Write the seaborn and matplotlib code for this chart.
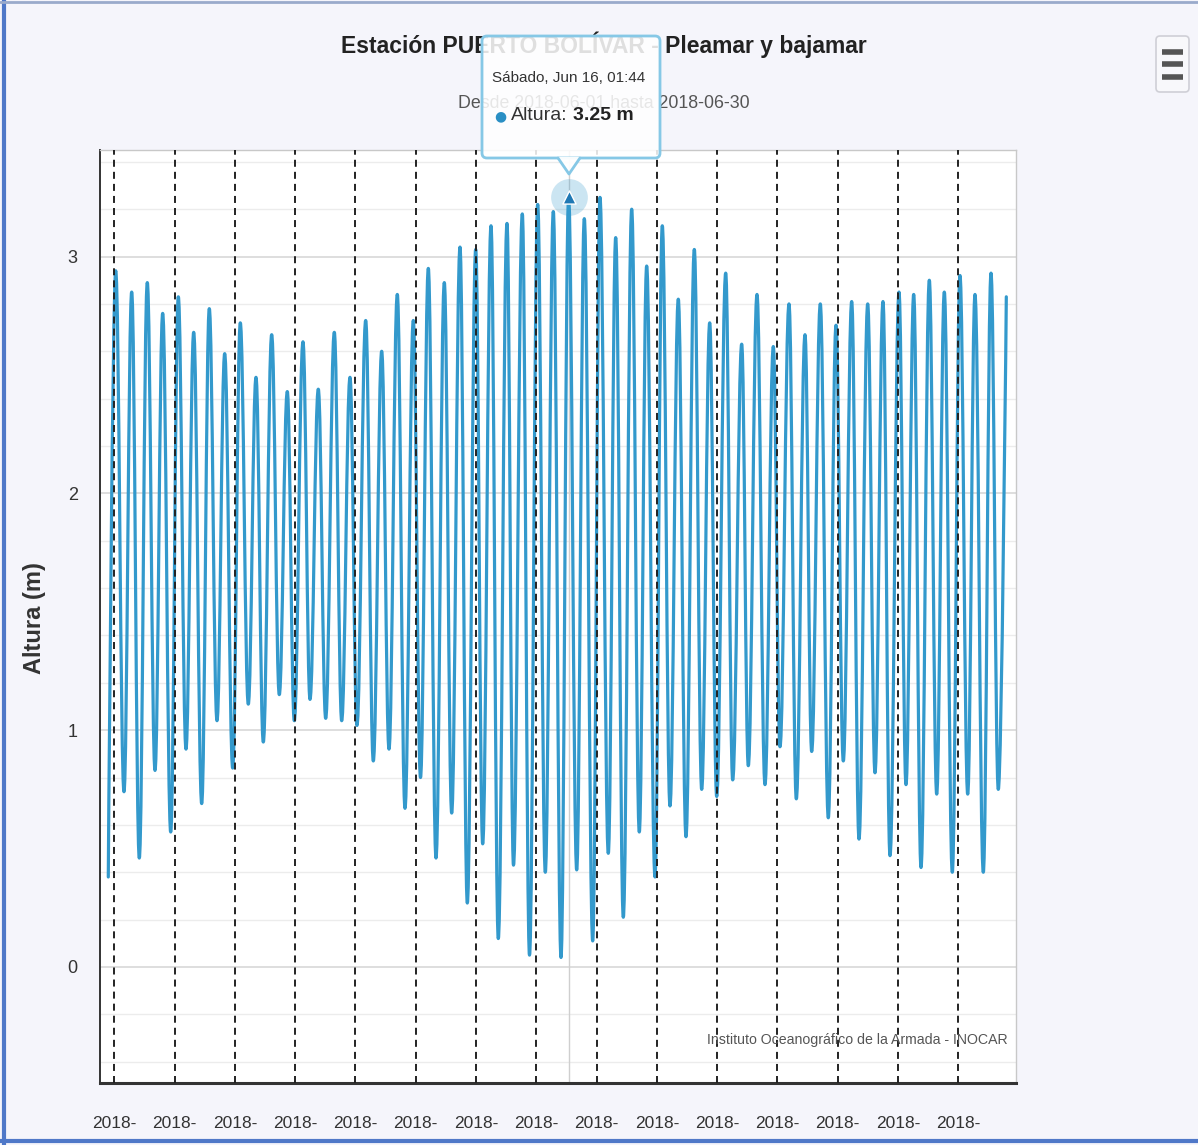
import numpy as np
import pandas as pd
import matplotlib
matplotlib.use("Agg")
import matplotlib.pyplot as plt
from matplotlib.patches import FancyBboxPatch, Polygon, PathPatch
from matplotlib.path import Path
from matplotlib.lines import Line2D
from matplotlib.transforms import IdentityTransform
import seaborn as sns

# ---------------- data ----------------
times = [
    "2018-05-31 19:13", "2018-06-01 01:07", "2018-06-01 07:43", "2018-06-01 13:51",
    "2018-06-01 19:54", "2018-06-02 02:16", "2018-06-02 08:25", "2018-06-02 14:32",
    "2018-06-02 20:55", "2018-06-03 02:58", "2018-06-03 09:05", "2018-06-03 15:13",
    "2018-06-03 21:35", "2018-06-04 03:38", "2018-06-04 09:46", "2018-06-04 15:54",
    "2018-06-04 22:16", "2018-06-05 04:19", "2018-06-05 10:41", "2018-06-05 16:49",
    "2018-06-05 22:38", "2018-06-06 05:19", "2018-06-06 11:22", "2018-06-06 17:44",
    "2018-06-06 23:19", "2018-06-07 06:14", "2018-06-07 11:49", "2018-06-07 18:25",
    "2018-06-08 00:19", "2018-06-08 07:10", "2018-06-08 13:03", "2018-06-08 19:40",
    "2018-06-09 01:14", "2018-06-09 08:10", "2018-06-09 14:13", "2018-06-09 20:54",
    "2018-06-10 02:43", "2018-06-10 09:19", "2018-06-10 15:27", "2018-06-10 22:04",
    "2018-06-11 03:48", "2018-06-11 10:01", "2018-06-11 16:08", "2018-06-11 22:45",
    "2018-06-12 04:38", "2018-06-12 11:15", "2018-06-12 17:04", "2018-06-12 23:45",
    "2018-06-13 05:19", "2018-06-13 11:56", "2018-06-13 17:44", "2018-06-14 00:40",
    "2018-06-14 05:50", "2018-06-14 12:51", "2018-06-14 18:35", "2018-06-15 01:07",
    "2018-06-15 07:10", "2018-06-15 13:32", "2018-06-15 19:40", "2018-06-16 01:44",
    "2018-06-16 08:10", "2018-06-16 14:13", "2018-06-16 20:54", "2018-06-17 02:43",
    "2018-06-17 09:19", "2018-06-17 15:13", "2018-06-17 21:16", "2018-06-18 03:57",
    "2018-06-18 10:00", "2018-06-18 15:53", "2018-06-18 22:30", "2018-06-19 04:19",
    "2018-06-19 10:26", "2018-06-19 17:03", "2018-06-19 23:11", "2018-06-20 05:48",
    "2018-06-20 11:41", "2018-06-20 18:04", "2018-06-20 23:38", "2018-06-21 06:48",
    "2018-06-21 12:22", "2018-06-21 19:32", "2018-06-22 00:47", "2018-06-22 07:43",
    "2018-06-22 14:05", "2018-06-22 20:42", "2018-06-23 02:02", "2018-06-23 09:12",
    "2018-06-23 15:01", "2018-06-23 21:56", "2018-06-24 03:16", "2018-06-24 10:07",
    "2018-06-24 16:29", "2018-06-24 22:37", "2018-06-25 04:26", "2018-06-25 11:07",
    "2018-06-25 16:56", "2018-06-25 23:52", "2018-06-26 05:40", "2018-06-26 12:02",
    "2018-06-26 17:37", "2018-06-27 00:47", "2018-06-27 06:21", "2018-06-27 12:29",
    "2018-06-27 18:18", "2018-06-28 00:55", "2018-06-28 06:48", "2018-06-28 12:51",
    "2018-06-28 19:13", "2018-06-29 01:21", "2018-06-29 07:29", "2018-06-29 13:17",
    "2018-06-29 19:54", "2018-06-30 02:02", "2018-06-30 07:50", "2018-06-30 14:13",
]
heights = [
    0.38, 2.94, 0.74, 2.85, 0.46, 2.89, 0.83, 2.76, 0.57, 2.83,
    0.92, 2.68, 0.69, 2.78, 1.04, 2.59, 0.84, 2.72, 1.11, 2.49,
    0.95, 2.67, 1.15, 2.43, 1.04, 2.64, 1.13, 2.44, 1.05, 2.68,
    1.04, 2.49, 1.02, 2.73, 0.87, 2.60, 0.92, 2.84, 0.67, 2.73,
    0.80, 2.95, 0.46, 2.89, 0.65, 3.04, 0.27, 3.03, 0.52, 3.13,
    0.12, 3.14, 0.43, 3.18, 0.05, 3.22, 0.40, 3.19, 0.04, 3.25,
    0.41, 3.16, 0.11, 3.25, 0.48, 3.08, 0.21, 3.20, 0.57, 2.96,
    0.38, 3.13, 0.68, 2.82, 0.55, 3.03, 0.75, 2.72, 0.72, 2.93,
    0.79, 2.63, 0.85, 2.84, 0.77, 2.62, 0.93, 2.80, 0.71, 2.67,
    0.91, 2.80, 0.63, 2.71, 0.87, 2.81, 0.54, 2.80, 0.82, 2.81,
    0.47, 2.85, 0.77, 2.84, 0.42, 2.90, 0.73, 2.85, 0.40, 2.92,
    0.73, 2.84, 0.40, 2.93, 0.75, 2.83,
]
tick_dates = [
    "2018-06-01", "2018-06-03", "2018-06-05", "2018-06-07", "2018-06-09",
    "2018-06-11", "2018-06-13", "2018-06-15", "2018-06-17", "2018-06-19",
    "2018-06-21", "2018-06-23", "2018-06-25", "2018-06-27", "2018-06-29",
]
tick_labels = ["2018-", "2018-", "2018-", "2018-", "2018-",
               "2018-", "2018-", "2018-", "2018-", "2018-",
               "2018-", "2018-", "2018-", "2018-", "2018-"]
y_ticks = [0, 1, 2, 3]
title = "Estación PUERTO BOLÍVAR - Pleamar y bajamar"
subtitle = "Desde 2018-06-01 hasta 2018-06-30"
credits = "Instituto Oceanográfico de la Armada - INOCAR"
y_label = "Altura (m)"
tooltip_time = "2018-06-16 01:44"
tooltip_value = 3.25
tooltip_date_text = "Sábado, Jun 16, 01:44"
x_range = ("2018-05-31 12:37", "2018-06-30 21:56")
y_range = (-0.49, 3.45)

df = pd.DataFrame({"time": pd.to_datetime(times), "height": heights})

# ---------------- style ----------------
sns.set_theme(style="white")
plt.rcParams["font.family"] = ["Liberation Sans", "DejaVu Sans"]

W, H = 1198, 1145
fig = plt.figure(figsize=(W / 100, H / 100), dpi=100, facecolor="#f5f5fb")


def fx(px):
    return px / W


def fy(py):
    return 1 - py / H


ax = fig.add_axes([fx(100), fy(1083), fx(1016) - fx(100), fy(150) - fy(1083)])
ax.set_facecolor("white")

LINE_COLOR = "#3399cc"
sns.lineplot(data=df, x="time", y="height", ax=ax, color=LINE_COLOR,
             linewidth=2.3, zorder=3)

# Render the seaborn line as a Highcharts-style spline (smooth Bezier path
# through the same data points, in the axes' data coordinates).
series_line = ax.lines[0]
xy = series_line.get_xydata()
smoothing, denom = 1.5, 2.5
verts = [tuple(xy[0])]
codes = [Path.MOVETO]
right_cont = {}
n = len(xy)
for i in range(1, n):
    px_, py_ = xy[i]
    lx, ly = xy[i - 1]
    lcx, lcy = px_, py_
    if i < n - 1:
        nx, ny = xy[i + 1]
        lcx = (smoothing * px_ + lx) / denom
        lcy = (smoothing * py_ + ly) / denom
        rcx = (smoothing * px_ + nx) / denom
        rcy = (smoothing * py_ + ny) / denom
        if rcx != lcx:
            corr = ((rcy - lcy) * (rcx - px_)) / (rcx - lcx) + py_ - rcy
            lcy += corr
            rcy += corr
        if lcy > ly and lcy > py_:
            lcy = max(ly, py_)
            rcy = 2 * py_ - lcy
        elif lcy < ly and lcy < py_:
            lcy = min(ly, py_)
            rcy = 2 * py_ - lcy
        if rcy > ny and rcy > py_:
            rcy = max(ny, py_)
            lcy = 2 * py_ - rcy
        elif rcy < ny and rcy < py_:
            rcy = min(ny, py_)
            lcy = 2 * py_ - rcy
        right_cont[i] = (rcx, rcy)
    c1 = right_cont.get(i - 1, (lx, ly))
    verts += [c1, (lcx, lcy), (px_, py_)]
    codes += [Path.CURVE4, Path.CURVE4, Path.CURVE4]
spline = PathPatch(Path(verts, codes), facecolor="none", edgecolor=LINE_COLOR,
                   linewidth=2.3, zorder=3, transform=ax.transData,
                   capstyle="round", joinstyle="round")
ax.add_patch(spline)
series_line.set_visible(False)

ax.set_xlim(pd.Timestamp(x_range[0]), pd.Timestamp(x_range[1]))
ax.set_ylim(*y_range)

# grid
ax.set_yticks(y_ticks)
ax.set_yticklabels([str(v) for v in y_ticks])
ax.set_yticks(np.arange(-0.4, 3.41, 0.2), minor=True)
ax.yaxis.grid(True, which="minor", color="#ececec", lw=1.0, zorder=0)
ax.yaxis.grid(True, which="major", color="#d8d8d8", lw=1.2, zorder=0)
ax.set_axisbelow(True)

tick_ts = [pd.Timestamp(d) for d in tick_dates]
ax.set_xticks(tick_ts)
ax.set_xticklabels(tick_labels)
for t in tick_ts:
    ax.axvline(t, color="#222222", lw=1.4, ls=(0, (3.6, 2.6)), zorder=4)

# crosshair
ax.axvline(pd.Timestamp(tooltip_time), color="#cfcfcf", lw=1.0, zorder=2)

ax.tick_params(axis="both", which="major", length=10, width=1.4, color="#333333",
               labelsize=12.5, labelcolor="#333333", direction="out")
ax.tick_params(axis="x", pad=14)
ax.tick_params(axis="y", pad=6, labelsize=13)
ax.tick_params(which="minor", length=0)
ax.set_xlabel("")
ax.set_ylabel("")

for side in ["top", "right"]:
    ax.spines[side].set_color("#c8c8c8")
    ax.spines[side].set_linewidth(1.0)
ax.spines["left"].set_color("#333333")
ax.spines["left"].set_linewidth(1.4)
ax.spines["bottom"].set_color("#333333")
ax.spines["bottom"].set_linewidth(2.2)

# highlighted point
ax.scatter([pd.Timestamp(tooltip_time)], [tooltip_value], s=700, color=LINE_COLOR,
           alpha=0.25, zorder=5, linewidths=0)
ax.scatter([pd.Timestamp(tooltip_time)], [tooltip_value], s=90, marker="^",
           color="#1f78b4", edgecolor="white", linewidths=1.0, zorder=6)

# ---------------- texts ----------------
fig.text(fx(604), fy(45), title, ha="center", va="center", fontsize=16.5,
         weight="bold", color="#222222", zorder=1)
fig.text(fx(604), fy(103), subtitle, ha="center", va="center", fontsize=12.8,
         color="#555555", zorder=1)
fig.text(fx(35), fy(618), y_label, ha="center", va="center", rotation=90,
         fontsize=17, weight="bold", color="#333333")
fig.text(fx(1008), fy(1040), credits, ha="right", va="center", fontsize=10.2,
         color="#555555")

# ---------------- tooltip ----------------
ident = IdentityTransform()
bx0, by0, bx1, by1 = 482, 36, 660, 158
box = FancyBboxPatch((bx0, H - by1), bx1 - bx0, by1 - by0,
                     boxstyle="round,pad=0,rounding_size=5",
                     transform=ident, facecolor=(1, 1, 1, 0.86),
                     edgecolor="#86c8e6", linewidth=2, zorder=10)
fig.patches.append(box)
pointer = Polygon([(558, H - by1 + 1), (580, H - by1 + 1), (569, H - 174)],
                  closed=True, transform=ident, facecolor=(1, 1, 1, 0.95),
                  edgecolor="none", zorder=11)
fig.patches.append(pointer)
fig.add_artist(Line2D([558, 569, 580], [H - by1, H - 174, H - by1],
                      transform=ident, color="#86c8e6", lw=2, zorder=12))
fig.text(fx(569), fy(78), tooltip_date_text, ha="center", va="center",
         fontsize=11, color="#333333", zorder=13)
fig.text(fx(500), fy(116), "●", ha="center", va="center", fontsize=10,
         color="#2a8fc4", zorder=13, family="DejaVu Sans")
fig.text(fx(511), fy(116), "Altura:", ha="left", va="center", fontsize=14,
         color="#333333", zorder=13)
fig.text(fx(573), fy(116), f"{tooltip_value:.2f} m", ha="left", va="center",
         fontsize=14, weight="bold", color="#222222", zorder=13)

# ---------------- menu icon ----------------
menu = FancyBboxPatch((1156, H - 92), 33, 56, boxstyle="round,pad=0,rounding_size=4",
                      transform=ident, facecolor="#f8f8fb", edgecolor="#cfcfd6",
                      linewidth=1.2, zorder=10)
fig.patches.append(menu)
for yy in [52, 64, 77]:
    fig.add_artist(Line2D([1162, 1183], [H - yy, H - yy], transform=ident,
                          color="#555555", lw=4, solid_capstyle="butt", zorder=11))

# ---------------- frame borders ----------------
fig.add_artist(Line2D([4, 4], [0, H], transform=ident, color="#4f78c8", lw=3))
fig.add_artist(Line2D([0, W], [4, 4], transform=ident, color="#4f78c8", lw=3))
fig.add_artist(Line2D([0, W], [H - 2, H - 2], transform=ident, color="#9aaacb", lw=2))

fig.savefig("out.png", dpi=100, facecolor=fig.get_facecolor())
